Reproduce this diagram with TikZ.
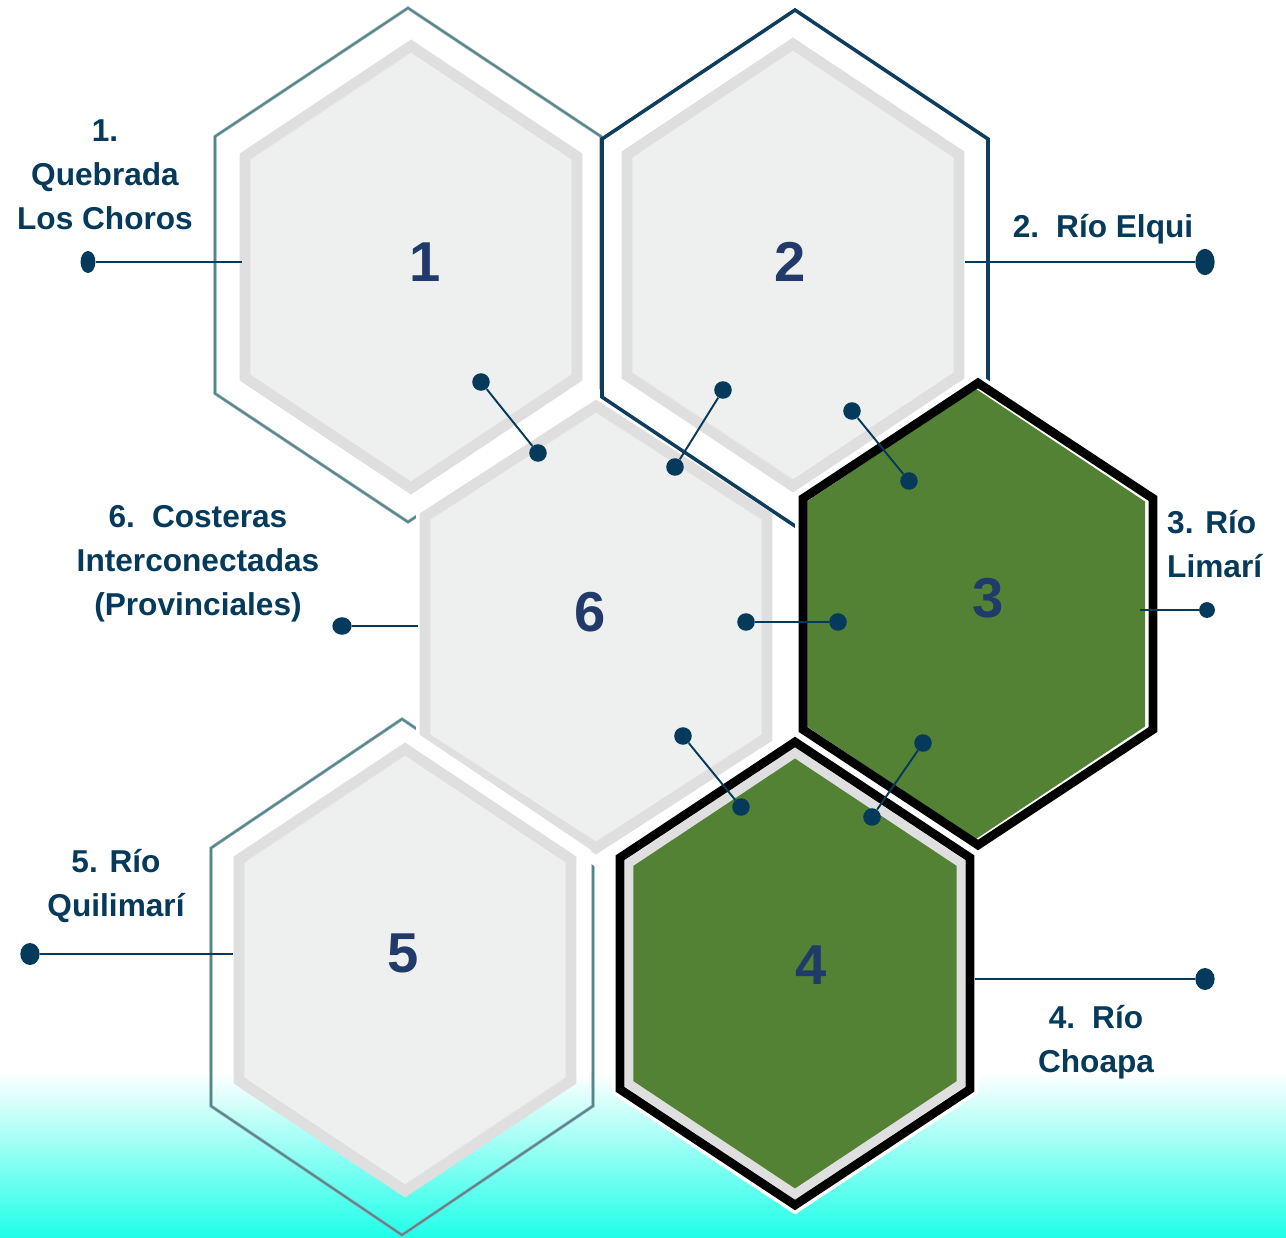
\documentclass[tikz,border=0pt]{standalone}
\usepackage{fontspec}
\setmainfont{Liberation Sans}
\usetikzlibrary{positioning, shapes.geometric}

\definecolor{navy}{HTML}{063A5A}
\definecolor{numblue}{HTML}{223A6A}
\definecolor{band}{HTML}{DFDFDF}
\definecolor{hexfill}{HTML}{EEF0EF}
\definecolor{leaf}{HTML}{548235}
\definecolor{rimteal}{HTML}{4F8983}
\definecolor{rimgray}{HTML}{93A3B8}
\definecolor{rimnavy}{HTML}{0E3D5E}
\definecolor{aqua}{HTML}{1EFFE8}

% pointy-top hexagon: centre x, centre y, half width, radius
\newcommand{\hexpath}[4]{({#1},{#2-#4}) -- ({#1+#3},{#2-0.5*#4}) -- ({#1+#3},{#2+0.5*#4})
  -- ({#1},{#2+#4}) -- ({#1-#3},{#2+0.5*#4}) -- ({#1-#3},{#2-0.5*#4}) -- cycle}

\begin{document}
\begin{tikzpicture}[x=0.02cm, y=-0.02cm, line join=miter,
    tealrim/.style={draw=rimgray, double=rimteal, double distance=0.9pt, line width=0.45pt},
    navyrim/.style={draw=rimnavy, line width=2pt},
    bandhex/.style={draw=band, fill=hexfill, line width=6.2pt},
    halo/.style={draw=white, line width=9pt},
    blackrim/.style={draw=black, line width=5pt},
    numlbl/.style={font=\bfseries\fontsize{32}{32}\selectfont, text=numblue},
    txtlbl/.style={font=\bfseries\fontsize{18}{25}\selectfont, text=navy, align=center},
    link/.style={draw=navy, line width=1.1pt},
    endpt/.style={ellipse, fill=navy, inner sep=0pt, minimum width=10pt, minimum height=10pt}]
  \useasboundingbox (0,0) rectangle (1286,1238);
  \fill[white] (0,0) rectangle (1286,1238);
  \shade[top color=white, bottom color=aqua] (0,1072) rectangle (1286,1238);

  % outer rims
  \draw[tealrim] \hexpath{408}{265}{193}{257};
  \draw[tealrim] \hexpath{402}{977}{191}{258};

  % hexagon 6
  \fill[white] \hexpath{596}{627}{180}{240};
  \draw[bandhex] \hexpath{596}{627}{171}{221};

  % hexagons 1 and 2
  \draw[navyrim] \hexpath{795}{268}{193}{258};
  \draw[bandhex] \hexpath{411}{267}{166}{221};
  \draw[bandhex] \hexpath{793}{265}{166}{221};

  % hexagon 5
  \begin{scope}
    \clip (0,0) rectangle (1286,1072);
    \fill[white] \hexpath{402}{977}{189}{254};
  \end{scope}
  \draw[bandhex] \hexpath{405}{970}{166}{221};

  % hexagon 3
  \draw[halo] \hexpath{978}{614}{175}{231};
  \fill[white] \hexpath{978}{614}{175}{231};
  \fill[leaf] \hexpath{976}{614}{169}{225};
  \draw[blackrim] \hexpath{978}{614}{175}{231};

  % hexagon 4
  \draw[halo] \hexpath{795}{973.5}{175}{231.5};
  \draw[draw=band, fill=leaf, line width=5.1pt] \hexpath{795}{973.5}{166}{220.5};
  \draw[blackrim] \hexpath{795}{973.5}{175}{231.5};

  % numbers
  \node[numlbl] (n1) at (425,262) {1};
  \node[numlbl] (n2) at (790,262) {2};
  \node[numlbl] (n3) at (988,598) {3};
  \node[numlbl] (n4) at (811,965) {4};
  \node[numlbl] (n5) at (403,953) {5};
  \node[numlbl] (n6) at (590,612) {6};

  % labels
  \node[txtlbl] (t1) at (105,175) {1.\\Quebrada\\Los Choros};
  \node[txtlbl] (t2) at (1103,229) {2.\, Río Elqui};
  \node[txtlbl, align=left, anchor=west] (t3) at (1161,544) {3. Río\\Limarí};
  \node[txtlbl] (t4) at (1096,1042) {4.\, Río\\Choapa};
  \node[txtlbl] (t5) at (116,886) {5. Río\\Quilimarí};
  \node[txtlbl] (t6) at (198,564) {6.\, Costeras\\Interconectadas\\(Provinciales)};

  % outer leaders
  \node[endpt, minimum width=8.5pt, minimum height=12.5pt] (d1) at (88,262) {};
  \coordinate (e1) at (242,262);
  \node[endpt, minimum width=11pt, minimum height=15pt] (d2) at (1205,262) {};
  \coordinate (e2) at (965,262);
  \node[endpt, minimum width=9pt, minimum height=9pt] (d3) at (1207,610) {};
  \coordinate (e3) at (1140,610);
  \node[endpt, minimum width=11pt, minimum height=12.5pt] (d4) at (1205,979) {};
  \coordinate (e4) at (975,979);
  \node[endpt, minimum width=11pt, minimum height=12.5pt] (d5) at (30,954) {};
  \coordinate (e5) at (233,954);
  \node[endpt, minimum width=11pt, minimum height=10pt] (d6) at (342,626) {};
  \coordinate (e6) at (418,626);
  \foreach \i in {1,...,6}
    \draw[link] (d\i) -- (e\i);

  % inner links
  \node[endpt] (a1) at (481,382) {};
  \node[endpt] (a2) at (538,453) {};
  \node[endpt] (b1) at (723,390) {};
  \node[endpt] (b2) at (675,467) {};
  \node[endpt] (c1) at (852,411) {};
  \node[endpt] (c2) at (909,481) {};
  \node[endpt] (g1) at (746,622) {};
  \node[endpt] (g2) at (838,622) {};
  \node[endpt] (h1) at (683,736) {};
  \node[endpt] (h2) at (741,807) {};
  \node[endpt] (k1) at (923,743) {};
  \node[endpt] (k2) at (872,817) {};
  \foreach \u/\v in {a1/a2, b1/b2, c1/c2, g1/g2, h1/h2, k1/k2}
    \draw[link] (\u) -- (\v);
\end{tikzpicture}
\end{document}
